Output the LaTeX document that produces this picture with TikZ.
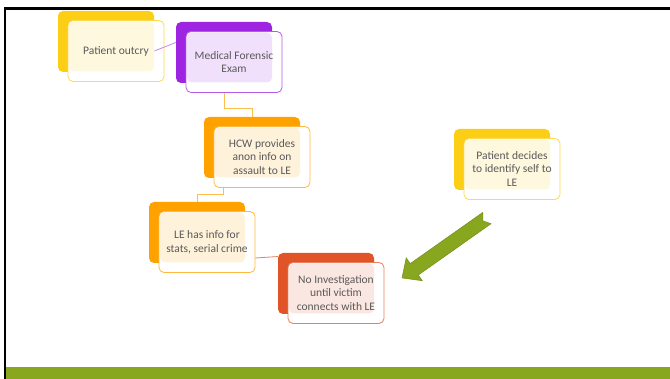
\documentclass[tikz,border=0pt]{standalone}
\usepackage{fontspec}
\setmainfont{Carlito}
\usepackage{tikz}
\usetikzlibrary{calc}

\definecolor{boxyellow}{RGB}{252,206,22}
\definecolor{boxpurple}{RGB}{158,36,226}
\definecolor{boxorange}{RGB}{255,162,0}
\definecolor{boxred}{RGB}{224,84,40}
\definecolor{bargreen}{RGB}{136,167,30}
\definecolor{txtgray}{RGB}{89,89,89}

\begin{document}
\begin{tikzpicture}[x=1pt,y=-1pt,
  backbox/.style={fill=#1, rounded corners=5pt, minimum width=96pt, minimum height=61pt, inner sep=0pt},
  frontbox/.style={draw=#1!75, line width=0.8pt, fill=white, rounded corners=5pt,
    minimum width=96pt, minimum height=61pt, inner sep=0pt, align=center, text=txtgray,
    font=\fontsize{11.5}{13.5}\selectfont,
    path picture={\fill[#1!14] ([xshift=1pt,yshift=-1pt]path picture bounding box.north west) rectangle ([xshift=-10pt,yshift=10pt]path picture bounding box.south east);}},
  link/.style={draw=#1, line width=0.8pt}]

\useasboundingbox (0,0) rectangle (670,379);

% slide frame and bottom bar
\draw[line width=2.2pt] (670,8.5) -- (5,8.5) -- (5,379);
\fill[bargreen] (6,367) rectangle (670,379);

\node[backbox=boxyellow] (outB) at (106,41.5) {};
\node[frontbox=boxyellow] (out) at ([shift={(10,9.5)}]outB.center) {Patient outcry};

\node[backbox=boxpurple] (mfeB) at (224,52.5) {};
\node[frontbox=boxpurple] (mfe) at ([shift={(10,9.5)}]mfeB.center) {Medical Forensic\\Exam};

\node[backbox=boxorange] (hcwB) at (252,147.5) {};
\node[frontbox=boxorange] (hcw) at ([shift={(10,9.5)}]hcwB.center) {HCW provides\\anon info on\\assault to LE};

\node[backbox=boxorange] (leB) at (197,232.5) {};
\node[frontbox=boxorange] (le) at ([shift={(10,9.5)}]leB.center) {LE has info for\\stats, serial crime};

\node[backbox=boxred] (noinvB) at (326,283.5) {};
\node[frontbox=boxred] (noinv) at ([shift={(10,9.5)}]noinvB.center) {No Investigation\\until victim\\connects with LE};

\node[backbox=boxyellow] (selfB) at (502,159.5) {};
\node[frontbox=boxyellow] (self) at ([shift={(10,9.5)}]selfB.center) {Patient decides\\to identify self to\\LE};

% connectors
\draw[link=boxpurple!55] ([xshift=-10pt]out.east) -- ([yshift=10pt]mfeB.west);
\draw[link=boxorange!70] (mfeB.center |- mfe.south) -- ++(0,16) -| (hcwB.north);
\draw[link=boxorange!70] ([xshift=10pt]hcw.south west) -- ++(0,7) -| (leB.north);
\draw[link=boxred!75] ([yshift=-16pt]le.east) -- ([yshift=27pt]noinvB.west);

% block arrow
\begin{scope}[shift={(487,218)}, rotate=215.2]
\filldraw[fill=bargreen, draw=bargreen!85!black, line width=0.5pt]
  (0,7) -- (89,7) -- (89,14) -- (104,0) -- (89,-14) -- (89,-7) -- (0,-7) -- (5,0) -- cycle;
\end{scope}

\end{tikzpicture}
\end{document}
